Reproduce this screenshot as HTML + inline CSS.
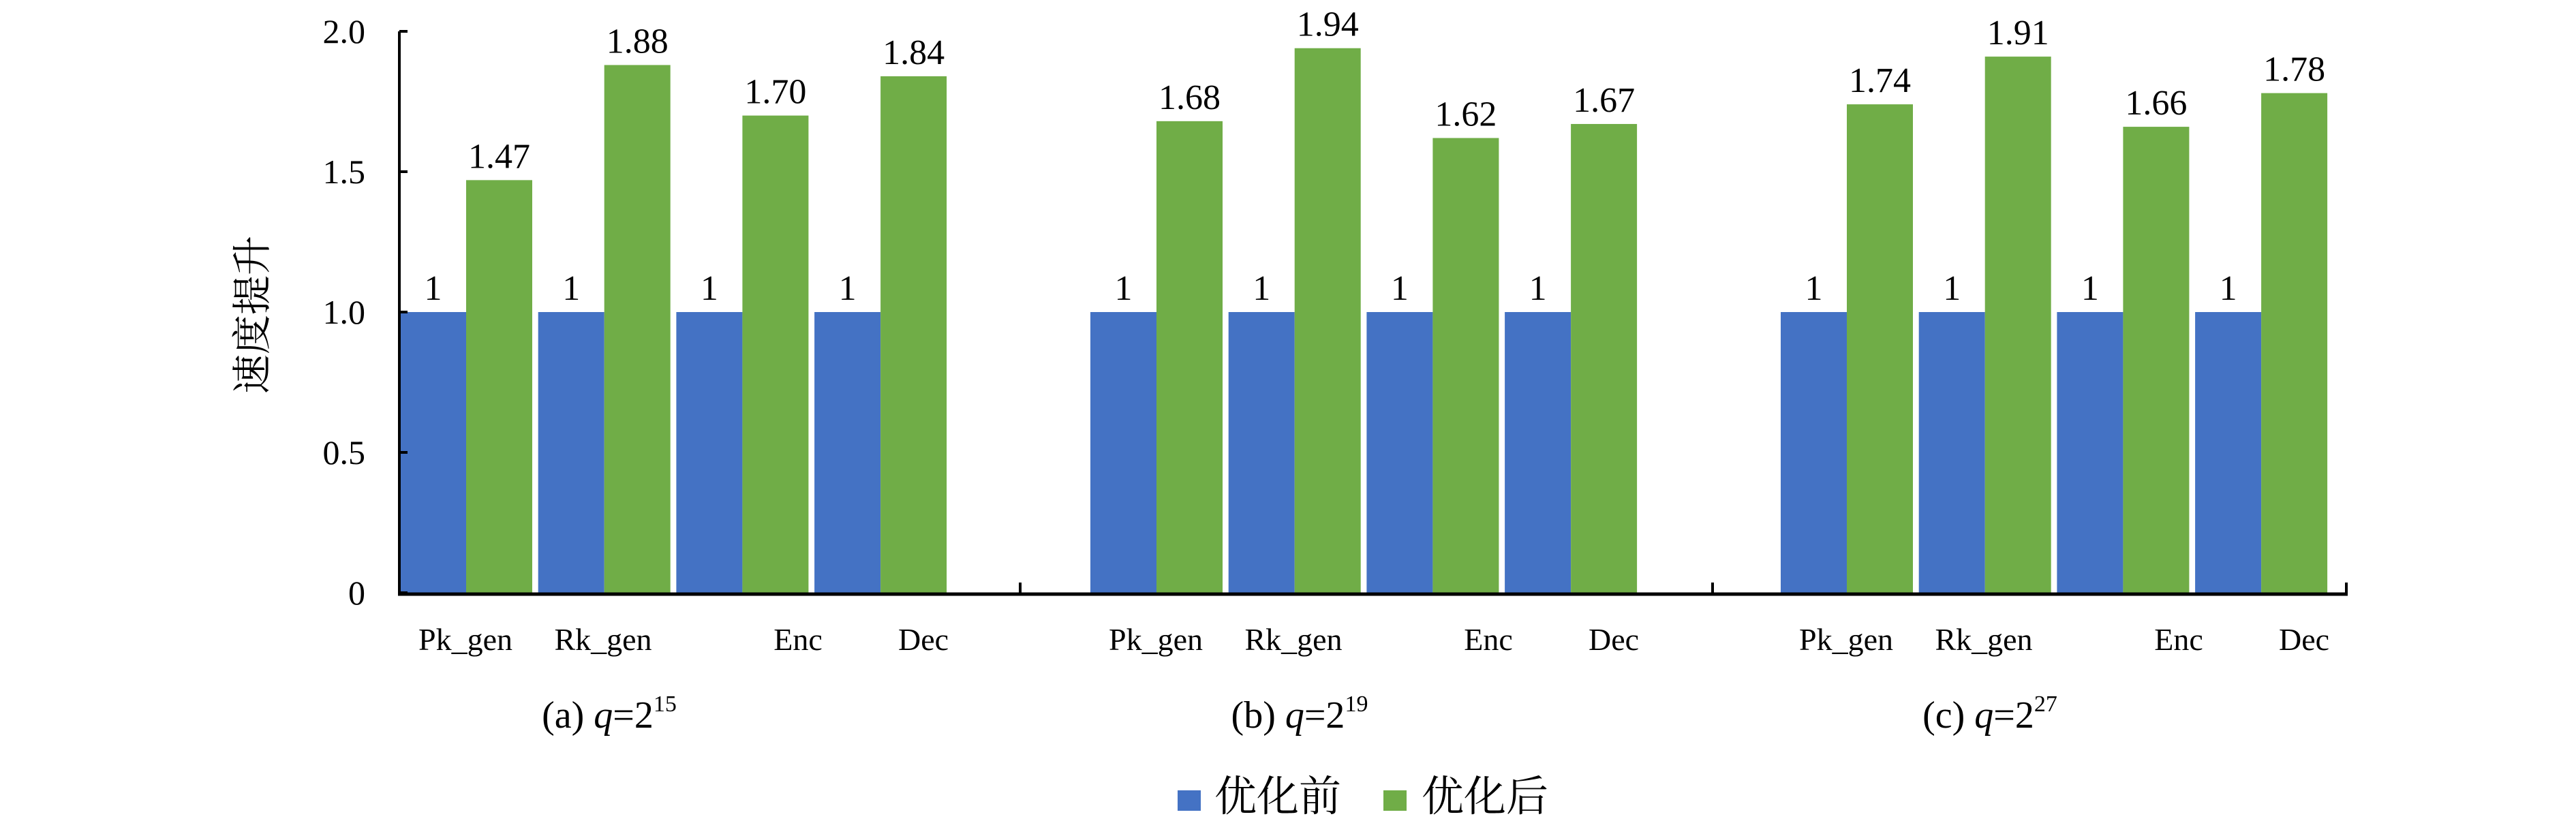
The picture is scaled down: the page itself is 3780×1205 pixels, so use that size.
<!DOCTYPE html>
<html><head><meta charset="utf-8"><style>
html,body{margin:0;padding:0;background:#fff;}
svg{display:block;}
text{font-family:"Liberation Serif","Noto Serif CJK SC",serif;fill:#000;}
</style></head><body>
<svg id="chart" width="3780" height="1205" viewBox="0 0 3780 1205" xmlns="http://www.w3.org/2000/svg">
<g id="plot"></g>
</svg>
<script>
const panels = ["(a) q=2^15","(b) q=2^19","(c) q=2^27"];
const panelExp = ["15","19","27"];
const categories = ["Pk_gen","Rk_gen","Enc","Dec"];
const before = [[1,1,1,1],[1,1,1,1],[1,1,1,1]];
const after = [[1.47,1.88,1.70,1.84],[1.68,1.94,1.62,1.67],[1.74,1.91,1.66,1.78]];
const yTicks = [0,0.5,1.0,1.5,2.0];
const yTickLabels = ["0","0.5","1.0","1.5","2.0"];

const NS="http://www.w3.org/2000/svg";
const g=document.getElementById('plot');
const X0=586, Y0=870, YTOP=46, YMAX=2.0;
const GROUP=1013, PAIR=202.7, BW=97;
const labelOff=[96,298,584,768];
function y(v){return Y0-(v/YMAX)*(Y0-YTOP);}
function gx(p){return X0+1+p*GROUP;}
function mk(tag,attrs){const e=document.createElementNS(NS,tag);for(const k in attrs)e.setAttribute(k,attrs[k]);g.appendChild(e);return e;}

// bars
for(let p=0;p<panels.length;p++){
  for(let i=0;i<categories.length;i++){
    const x=gx(p)+i*PAIR;
    let r=mk('rect',{x:x,y:y(before[p][i]),width:BW,height:Y0-y(before[p][i]),fill:'#4472C4'});
    
    
    let t=mk('text',{x:x+BW/2,y:y(before[p][i])-18,'font-size':52,'text-anchor':'middle'});
    t.textContent=String(before[p][i]);
    
    
    r=mk('rect',{x:x+BW,y:y(after[p][i]),width:BW,height:Y0-y(after[p][i]),fill:'#70AD47'});
    
    
    t=mk('text',{x:x+BW*1.5,y:y(after[p][i])-18,'font-size':52,'text-anchor':'middle'});
    t.textContent=after[p][i].toFixed(2);
    
    
    t=mk('text',{x:gx(p)+labelOff[i],y:954,'font-size':46,'text-anchor':'middle'});
    t.textContent=categories[i];
    
    
  }
  const c=mk('text',{x:gx(p)+307,y:1068,'font-size':56,'text-anchor':'middle'});
  c.innerHTML='('+String.fromCharCode(97+p)+') <tspan font-style="italic">q</tspan>=2<tspan font-size="34" dy="-24">'+panelExp[p]+'</tspan>';
  
  
}
// axes
let a=mk('line',{x1:X0,y1:YTOP,x2:X0,y2:Y0+4,stroke:'#000','stroke-width':4});


a=mk('line',{x1:X0-2,y1:Y0+2,x2:3445,y2:Y0+2,stroke:'#000','stroke-width':5});


[1497,2513,3443].forEach(sx=>{
  const l=mk('line',{x1:sx,y1:Y0-15,x2:sx,y2:Y0+2,stroke:'#000','stroke-width':4});
  
  
});
yTicks.forEach((v,i)=>{
  const l=mk('line',{x1:X0,y1:y(v),x2:X0+12,y2:y(v),stroke:'#000','stroke-width':4});
  
  
  const t=mk('text',{x:536,y:y(v)+17,'font-size':50,'text-anchor':'end'});
  t.textContent=yTickLabels[i];
  
  
});
let yt=mk('text',{x:0,y:0,'font-size':58,'text-anchor':'middle',transform:'translate(390,462) rotate(-90)'});
yt.textContent='速度提升';


// legend
let s=mk('rect',{x:1728,y:1160,width:34,height:30,fill:'#4472C4'});


let lt=mk('text',{x:1782,y:1190,'font-size':62});
lt.textContent='优化前';


s=mk('rect',{x:2030,y:1160,width:34,height:30,fill:'#70AD47'});


lt=mk('text',{x:2086,y:1190,'font-size':62});
lt.textContent='优化后';


</script>
</body></html>
